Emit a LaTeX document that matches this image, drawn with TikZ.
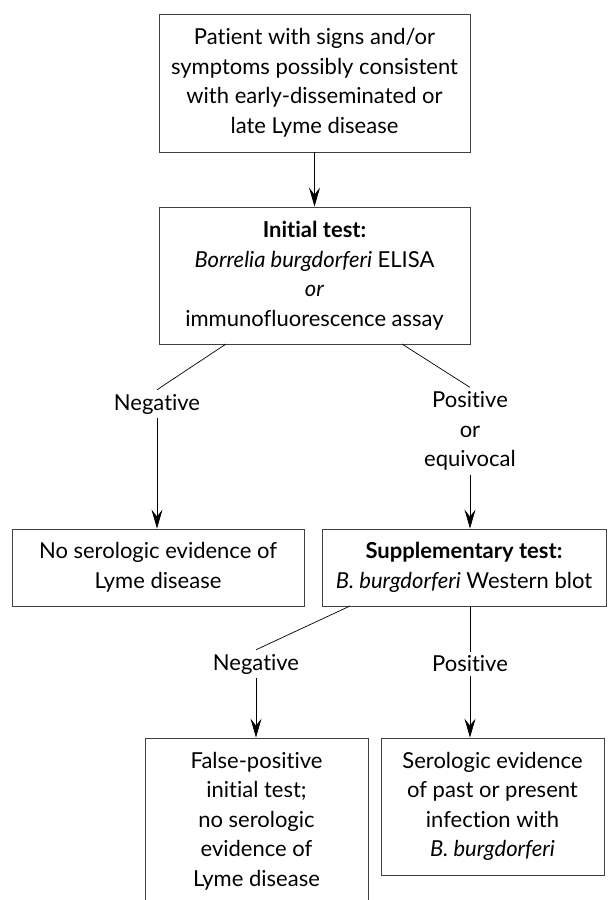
\documentclass[tikz,border=0pt]{standalone}
\usepackage{fontspec}
\setmainfont{Lato}[RawFeature=-liga]
\usetikzlibrary{arrows.meta}
\tikzset{
  box/.style={draw=black!75, line width=0.9pt, align=center, inner sep=0pt,
    font=\fontsize{22}{29.5}\selectfont},
  lbl/.style={align=center, inner sep=4pt, font=\fontsize{22}{29.5}\selectfont},
  conn/.style={line width=0.7pt, black},
  arr/.style={conn, -{Stealth[length=19pt, width=11pt, inset=7pt]}},
}
\begin{document}
\begin{tikzpicture}[x=1pt,y=-1pt]
\clip (0,0) rectangle (610,900);
\fill[white] (0,0) rectangle (610,900);
% boxes
\node[box, minimum width=311pt, minimum height=138pt] (b1) at (314.5,83)
  {Patient with signs and/or\\symptoms possibly consistent\\with early-disseminated or\\late Lyme disease};
\node[box, minimum width=311pt, minimum height=137pt] (b2) at (314.5,275.5)
  {\textbf{Initial test:}\\\textit{Borrelia burgdorferi} ELISA\\\textit{or}\\immunofluorescence assay};
\node[box, minimum width=292pt, minimum height=77pt] (b3) at (158,567.5)
  {No serologic evidence of\\Lyme disease};
\node[box, minimum width=284pt, minimum height=77pt] (b4) at (464,567.5)
  {\textbf{Supplementary test:}\\\textit{B. burgdorferi} Western blot};
\node[box, minimum width=223pt, minimum height=166pt] (b5) at (256.5,821)
  {False-positive\\initial test;\\no serologic\\evidence of\\Lyme disease};
\node[box, minimum width=223pt, minimum height=137pt] (b6) at (492.5,806.5)
  {Serologic evidence\\of past or present\\infection with\\\textit{B. burgdorferi}};
% labels
\node[lbl] (n1) at (157,404) {Negative};
\node[lbl] (p1) at (470,431) {Positive\\or\\equivocal};
\node[lbl] (n2) at (256,664) {Negative};
\node[lbl] (p2) at (470,664) {Positive};
% connector start points on box edges
\coordinate (b2l) at (226,344);
\coordinate (b2r) at (402,344);
\coordinate (b4l) at (350,606);
% connectors
\draw[arr] (b1.south) -- (b2.north);
\draw[conn] (b2l) -- (n1.north);
\draw[arr] (n1.south) -- (n1.south |- b3.north);
\draw[conn] (b2r) -- (p1.north);
\draw[arr] (p1.south) -- (p1.south |- b4.north);
\draw[conn] (b4l) -- (n2.north);
\draw[arr] (n2.south) -- (n2.south |- b5.north);
\draw[conn] (p2.north |- b4.south) -- (p2.north);
\draw[arr] (p2.south) -- (p2.south |- b6.north);
\end{tikzpicture}
\end{document}
